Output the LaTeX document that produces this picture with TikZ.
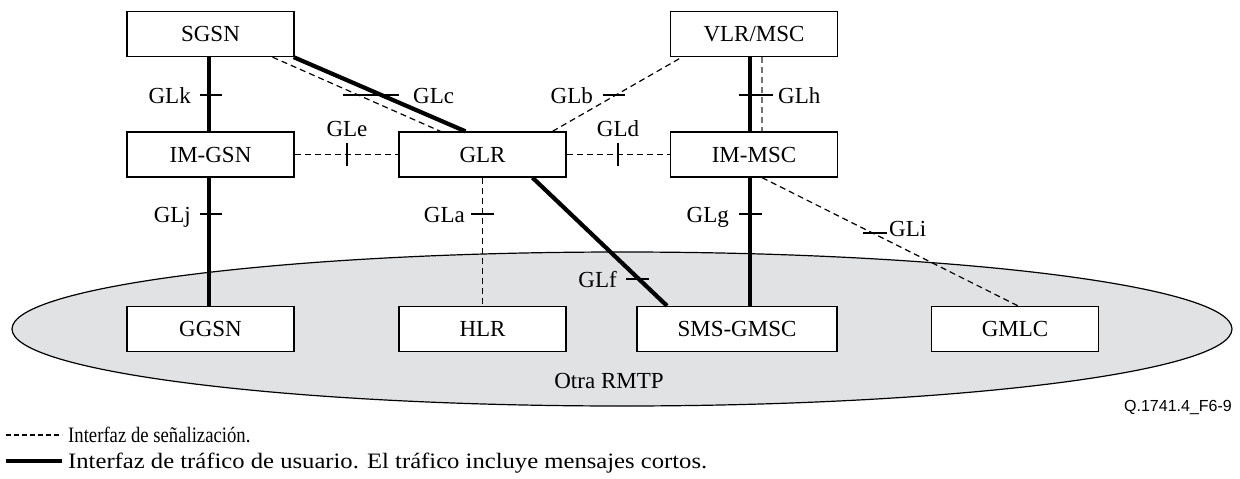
\documentclass[tikz,border=0pt]{standalone}
\usepackage{fontspec}
\setmainfont{Liberation Serif}
\setsansfont{Liberation Sans}
\usetikzlibrary{calc}
\definecolor{netfill}{RGB}{225,226,228}
\tikzset{
  box/.style={draw, line width=1.3pt, fill=white, minimum width=167pt, minimum height=45pt,
    inner sep=0pt, font=\fontsize{23}{26}\selectfont},
  sig/.style={line width=1.2pt, dash pattern=on 6pt off 4pt},
  sigg/.style={sig, draw=black!55},
  traf/.style={line width=4.2pt},
  tick/.style={line width=1.2pt},
  lbl/.style={inner sep=0pt, font=\fontsize{23}{26}\selectfont},
  legend/.style={inner sep=0pt, font=\fontsize{22}{26}\selectfont, anchor=base west}
}
\begin{document}
\begin{tikzpicture}[x=1pt,y=-1pt]
\useasboundingbox (0,0) rectangle (1240,479);

% the other network
\draw[line width=1.2pt, fill=netfill] (622,329) ellipse [x radius=610, y radius=77];
\node[lbl] (otra) at (609,381) {Otra RMTP};

% network elements
\node[box] (sgsn)  at (210.5,34)  {SGSN};
\node[box] (imgsn) at (210.5,154.5) {IM-GSN};
\node[box] (glr)   at (482.5,154.5) {GLR};
\node[box] (vlr)   at (754,34)    {VLR/MSC};
\node[box] (immsc) at (754,154.5) {IM-MSC};
\node[box] (ggsn)  at (210.5,329) {GGSN};
\node[box] (hlr)   at (482.5,329) {HLR};
\node[box, minimum width=200pt] (smsc) at (737,329) {SMS-GMSC};
\node[box] (gmlc)  at (1015,329)  {GMLC};

% interfaces
\draw[traf] ($(sgsn.south)+(-1.5,0)$) -- ($(imgsn.north)+(-1.5,0)$);
\draw[traf] ($(imgsn.south)+(-1.5,0)$) -- ($(ggsn.north)+(-1.5,0)$);
\draw[sig]  ($(sgsn.south)+(62,0)$) -- ($(glr.north)+(-42,0)$);
\draw[traf] ($(sgsn.south east)+(-1,0)$) -- ($(glr.north)+(-17,0)$);
\draw[traf] ($(glr.south)+(50,0)$) -- ($(smsc.north)+(-70,0)$);
\draw[sig]  ($(glr.north)+(70,0)$) -- ($(vlr.south)+(-72,0)$);
\draw[sig]  (imgsn.east) -- (glr.west);
\draw[sig]  (glr.east) -- (immsc.west);
\draw[sig]  (glr.south) -- (hlr.north);
\draw[traf] ($(vlr.south)+(-4,0)$) -- ($(immsc.north)+(-4,0)$);
\draw[sigg] ($(vlr.south)+(8,0)$) -- ($(immsc.north)+(8,0)$);
\draw[traf] ($(immsc.south)+(-4,0)$) -- ($(smsc.north)+(13,0)$);
\draw[sig]  ($(immsc.south)+(8,0)$) -- ($(gmlc.north)+(3,0)$);

% interface marks and names
\draw[tick] (200,95) -- (222,95);
\node[lbl, anchor=base east] (glk) at (191,103) {GLk};
\draw[tick] (343,95) -- (399,95);
\node[lbl, anchor=base west] (glc) at (413,103) {GLc};
\draw[tick] (347,143) -- (347,166);
\node[lbl, anchor=base] (gle) at (347,136) {GLe};
\draw[tick] (603,95) -- (625,95);
\node[lbl, anchor=base east] (glb) at (593,103) {GLb};
\draw[tick] (618,143) -- (618,166);
\node[lbl, anchor=base] (gld) at (618,136) {GLd};
\draw[tick] (739,95) -- (773,95);
\node[lbl, anchor=base west] (glh) at (778,103) {GLh};
\draw[tick] (200,214) -- (222,214);
\node[lbl, anchor=base east] (glj) at (191,222) {GLj};
\draw[tick] (471,214) -- (494,214);
\node[lbl, anchor=base east] (gla) at (465,222) {GLa};
\draw[tick] (739,214) -- (762,214);
\node[lbl, anchor=base east] (glg) at (729,222) {GLg};
\draw[tick] (626,279) -- (649,279);
\node[lbl, anchor=base east] (glf) at (617,287) {GLf};
\draw[tick] (863,233) -- (887,233);
\node[lbl, anchor=base west] (gli) at (889,236) {GLi};

% figure number
\node[inner sep=0pt, anchor=base east, font=\sffamily\fontsize{16}{18}\selectfont] (fig) at (1232,411) {Q.1741.4\_F6-9};

% legend
\coordinate (l1a) at (6,435);
\coordinate (l1b) at (62,435);
\coordinate (l2a) at (6,461);
\coordinate (l2b) at (62,461);
\draw[sig, dash pattern=on 5pt off 3pt] (l1a) -- (l1b);
\draw[traf] (l2a) -- (l2b);
\node[legend] (leg1) at (68,442) {\scalebox{0.85}[1]{Interfaz de señalización.}};
\node[legend] (leg2) at (68,468) {\scalebox{1.12}[1]{Interfaz de tráfico de usuario. El tráfico incluye mensajes cortos.}};
\end{tikzpicture}
\end{document}
